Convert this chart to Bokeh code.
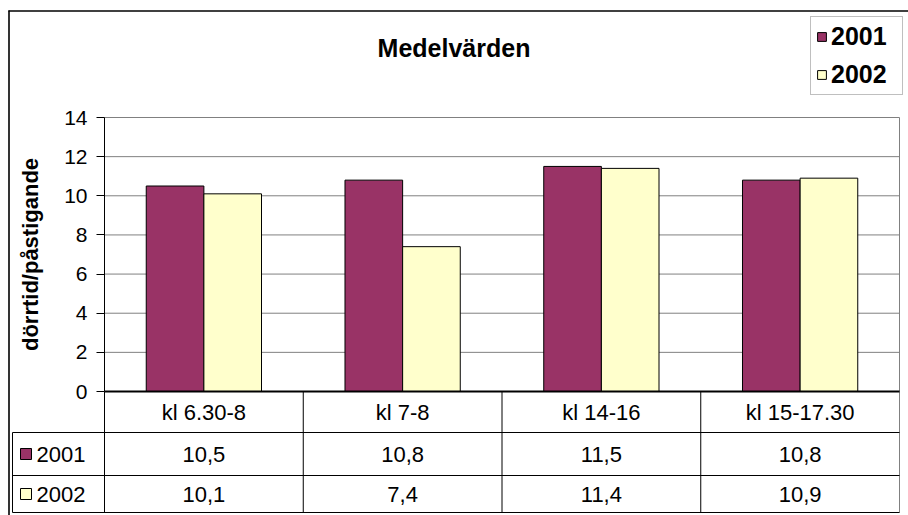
from bokeh.plotting import figure
from bokeh.models import (Range1d, FixedTicker, ColumnDataSource, Legend, LegendItem,
                          LinearAxis)
from bokeh.transform import dodge
from bokeh.core.properties import value
from bokeh.embed import file_html
from bokeh.resources import INLINE

# ---------------- data ----------------
categories = ["kl 6.30-8", "kl 7-8", "kl 14-16", "kl 15-17.30"]
series = ["2001", "2002"]
values_2001 = [10.5, 10.8, 11.5, 10.8]
values_2002 = [10.1, 7.4, 11.4, 10.9]
y_ticks = [0, 2, 4, 6, 8, 10, 12, 14]
title_text = "Medelvärden"
y_label = "dörrtid/påstigande"

# ---------------- style / layout (page pixels) ----------------
colors = ["#993366", "#FFFFCC"]
FONT = "Liberation Sans"
W, H = 908, 515
FL, FR, FT, FB, Y0 = 104, 899, 117, 512, 391   # plot area / table edges
ROW_EDGES = [391, 432, 475, 512]
TABLE_LEFT = 12
BAR_W = 0.29

ymax = y_ticks[-1]
ncat = len(categories)
pxu = (Y0 - FT) / ymax
pxc = (FR - FL) / ncat


def xd(px):
    return (px - FL) / pxc


def yd(py):
    return (Y0 - py) / pxu


def fmt(v):
    return f"{v:.1f}".replace(".", ",")


p = figure(width=W, height=H, x_range=Range1d(xd(0), xd(W)), y_range=Range1d(yd(H), yd(0)),
           x_axis_location=None, y_axis_location=None,
           output_backend="svg", toolbar_location=None,
           min_border_left=0, min_border_right=0, min_border_top=0, min_border_bottom=0)
p.background_fill_color = "white"
p.border_fill_color = "white"
p.outline_line_color = None
p.grid.visible = False

# gridlines (plot area) and plot-area right edge
grid_src = ColumnDataSource(dict(y=y_ticks[1:], x0=[0] * (len(y_ticks) - 1),
                                 x1=[ncat] * (len(y_ticks) - 1)))
p.segment(x0="x0", y0="y", x1="x1", y1="y", source=grid_src, line_color="#808080", line_width=1)
p.segment(x0=[ncat], y0=[yd(FB)], x1=[ncat], y1=[ymax], line_color="#808080", line_width=1)

# bars
pos = [i + 0.5 for i in range(ncat)]
src = ColumnDataSource(dict(pos=pos, cat=categories, v1=values_2001, v2=values_2002,
                            t1=[fmt(v) for v in values_2001],
                            t2=[fmt(v) for v in values_2002]))
r1 = p.vbar(x=dodge("pos", -BAR_W / 2), top="v1", width=BAR_W, bottom=0,
            source=src, fill_color=colors[0], line_color="black", line_width=1)
r2 = p.vbar(x=dodge("pos", BAR_W / 2), top="v2", width=BAR_W, bottom=0,
            source=src, fill_color=colors[1], line_color="black", line_width=1)

# category axis line (y = 0)
p.segment(x0=[0], y0=[0], x1=[ncat], y1=[0], line_color="black", line_width=2)

# y axis drawn at the plot-area left edge (its line continues down through the table)
ax = LinearAxis(fixed_location=0, bounds=(0, ymax))
ax.ticker = FixedTicker(ticks=y_ticks)
ax.axis_label = y_label
ax.axis_label_text_font = FONT
ax.axis_label_text_font_size = "22px"
ax.axis_label_text_font_style = "bold"
ax.axis_label_text_color = "black"
ax.axis_label_standoff = 18
ax.major_label_text_font = FONT
ax.major_label_text_font_size = "21px"
ax.major_label_text_color = "black"
ax.major_label_standoff = 9
ax.major_tick_in = 0
ax.major_tick_out = 8
ax.major_tick_line_color = "black"
ax.minor_tick_line_color = None
ax.axis_line_color = "black"
ax.axis_line_width = 1
p.add_layout(ax, "left")
p.segment(x0=[0], y0=[0], x1=[0], y1=[yd(FB)], line_color="black", line_width=1)

# ---------------- data table ----------------
row_mid = [(ROW_EDGES[i] + ROW_EDGES[i + 1]) / 2 for i in range(len(ROW_EDGES) - 1)]
# horizontal rules
hy = [yd(e) for e in ROW_EDGES[1:]]
p.segment(x0=[xd(TABLE_LEFT)] * len(hy), y0=hy, x1=[ncat] * len(hy), y1=hy,
          line_color="black", line_width=1)
# vertical rules
vx = [xd(TABLE_LEFT)] + list(range(1, ncat))
vy0 = [yd(ROW_EDGES[1])] + [yd(ROW_EDGES[0])] * (ncat - 1)
p.segment(x0=vx, y0=vy0, x1=vx, y1=[yd(FB)] * len(vx), line_color="black", line_width=1)

txt = dict(text_font=value(FONT), text_font_size="22px", text_align="center",
           text_baseline="middle", text_color="black")
p.text(x="pos", y=yd(row_mid[0]), text="cat", source=src, **txt)
p.text(x="pos", y=yd(row_mid[1]), text="t1", source=src, **txt)
p.text(x="pos", y=yd(row_mid[2]), text="t2", source=src, **txt)

key_src = ColumnDataSource(dict(kx=[xd(25.5)] * len(series), ky=[yd(m) for m in row_mid[1:]],
                                lx=[xd(36)] * len(series), name=series, color=colors))
p.rect(x="kx", y="ky", width=11, height=11, width_units="screen", height_units="screen",
       source=key_src, fill_color="color", line_color="black", line_width=1)
p.text(x="lx", y="ky", text="name", source=key_src, text_font=value(FONT),
       text_font_size="22px", text_align="left", text_baseline="middle", text_color="black")

# ---------------- title ----------------
p.text(x=[xd(453.5)], y=[yd(47.5)], text=[title_text], text_font=value(FONT),
       text_font_size="25px", text_font_style="bold", text_align="center",
       text_baseline="middle", text_color="black")

# ---------------- outer chart border ----------------
p.segment(x0=[xd(8.5), xd(8)], y0=[yd(10), yd(10.5)], x1=[xd(8.5), xd(W)], y1=[yd(H), yd(10.5)],
          line_color="black", line_width=1.6)

# ---------------- legend ----------------
legend = Legend(items=[LegendItem(label=s, renderers=[r]) for s, r in zip(series, [r1, r2])],
                location=(810, H - 95))
legend.label_text_font = FONT
legend.label_text_font_size = "25px"
legend.label_text_font_style = "bold"
legend.label_text_color = "black"
legend.border_line_color = "#808080"
legend.border_line_width = 1
legend.background_fill_color = "white"
legend.background_fill_alpha = 1
legend.glyph_width = 11
legend.glyph_height = 11
legend.label_standoff = 4
legend.label_width = 66
legend.label_height = 29
legend.spacing = 9
legend.padding = 5
p.add_layout(legend, "center")

open("out.html", "w").write(file_html(p, INLINE))
